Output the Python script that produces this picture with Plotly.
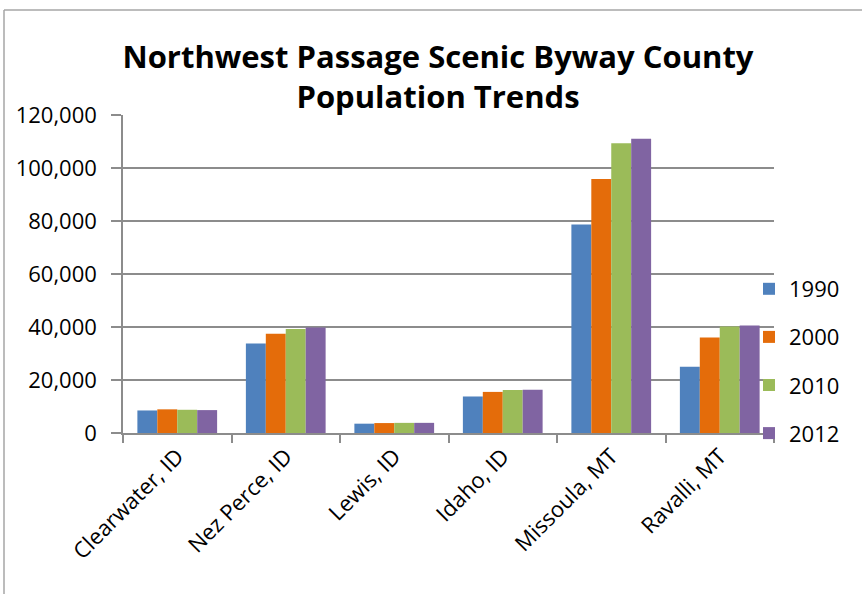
import plotly.graph_objects as go

# County population by census year
counties = ["Clearwater, ID", "Nez Perce, ID", "Lewis, ID", "Idaho, ID", "Missoula, MT", "Ravalli, MT"]
years = ["1990", "2000", "2010", "2012"]
pop_1990 = [8505, 33754, 3516, 13783, 78687, 25010]
pop_2000 = [8930, 37410, 3747, 15511, 95802, 36070]
pop_2010 = [8761, 39265, 3821, 16267, 109299, 40212]
pop_2012 = [8640, 39800, 3830, 16300, 111000, 40600]
series = [pop_1990, pop_2000, pop_2010, pop_2012]
colors = ["#4F81BD", "#E46C0A", "#9BBB59", "#8064A2"]

FONT = "Open Sans"
W, H = 862, 594
ML, MR, MT, MB = 123, 88, 115, 161
PW, PH = W - ML - MR, H - MT - MB

fig = go.Figure()
for yr, vals, col in zip(years, series, colors):
    fig.add_trace(go.Bar(
        x=counties, y=vals, name=yr, marker=dict(color=col, line=dict(width=0)),
        legendgroup=yr,
    ))

# outer chart-area frame (top and left edges)
def px_x(p):
    return (p - ML) / PW

def px_y(p):
    return (H - MB - p) / PH

grey = "#A6A6A6"
fig.add_shape(type="line", xref="paper", yref="paper",
              x0=px_x(4), x1=px_x(W + 5), y0=px_y(10), y1=px_y(10),
              line=dict(color=grey, width=1.5))
fig.add_shape(type="line", xref="paper", yref="paper",
              x0=px_x(4), x1=px_x(4), y0=px_y(10), y1=px_y(H + 5),
              line=dict(color=grey, width=1.5))

axis_grey = "#8C8C8C"
fig.update_layout(
    width=W, height=H,
    margin=dict(l=ML, r=MR, t=MT, b=MB, pad=0),
    paper_bgcolor="white", plot_bgcolor="white",
    barmode="group", bargap=0.265, bargroupgap=0,
    font=dict(family=FONT, color="black"),
    title=dict(
        text="<b>Northwest Passage Scenic Byway County<br>Population Trends</b>",
        font=dict(family=FONT, size=31, color="black"),
        xref="container", x=438 / W, xanchor="center",
        yref="container", y=1 - 68 / H, yanchor="top",
    ),
    showlegend=True,
    legend=dict(
        x=px_x(749), xanchor="left", y=px_y(268), yanchor="top",
        font=dict(family=FONT, size=22, color="black"),
        tracegroupgap=16.5, itemwidth=30, bgcolor="rgba(0,0,0,0)",
        traceorder="grouped",
    ),
    xaxis=dict(
        type="category", tickangle=-45, tickson="boundaries",
        ticks="outside", ticklen=8, tickcolor=axis_grey, tickwidth=1.5,
        showline=True, linecolor=axis_grey, linewidth=1.5,
        tickfont=dict(family=FONT, size=22, color="black"),
        showgrid=False,
    ),
    yaxis=dict(
        range=[0, 120000], tickvals=[0, 20000, 40000, 60000, 80000, 100000, 120000],
        tickformat=",d",
        ticks="outside", ticklen=10, tickcolor=axis_grey, tickwidth=1.5,
        showline=True, linecolor=axis_grey, linewidth=1.5,
        showgrid=True, gridcolor=axis_grey, gridwidth=1.5,
        zeroline=False,
        tickfont=dict(family=FONT, size=22, color="black"),
        ticklabelstandoff=10,
    ),
)

fig.write_html("out.html")
